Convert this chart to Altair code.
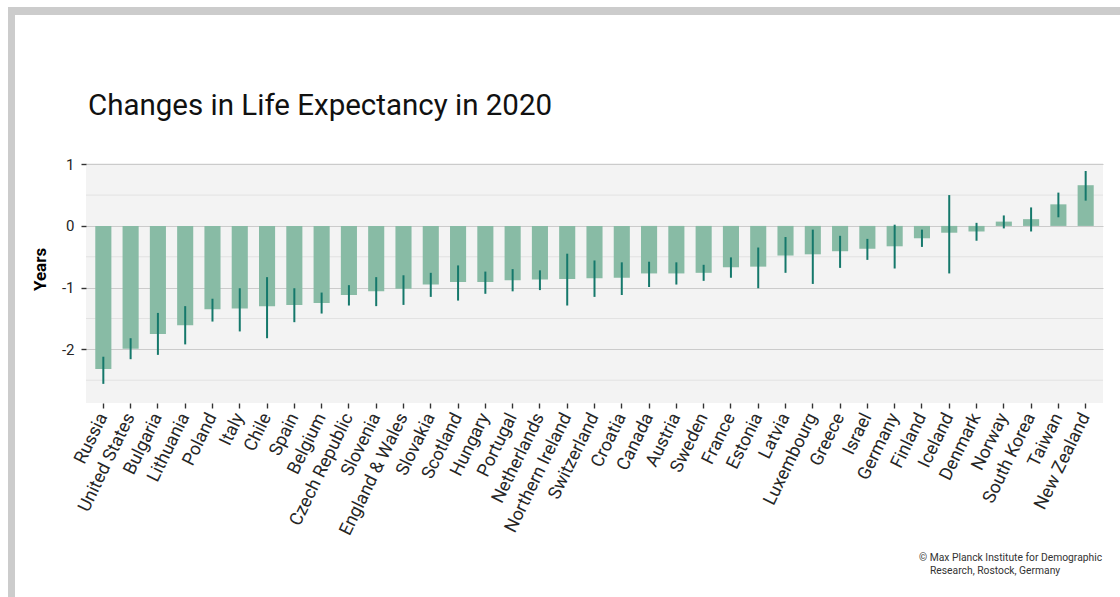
import altair as alt
import pandas as pd

countries = ["Russia", "United States", "Bulgaria", "Lithuania", "Poland", "Italy", "Chile",
             "Spain", "Belgium", "Czech Republic", "Slovenia", "England & Wales", "Slovakia",
             "Scotland", "Hungary", "Portugal", "Netherlands", "Northern Ireland", "Switzerland",
             "Croatia", "Canada", "Austria", "Sweden", "France", "Estonia", "Latvia",
             "Luxembourg", "Greece", "Israel", "Germany", "Finland", "Iceland", "Denmark",
             "Norway", "South Korea", "Taiwan", "New Zealand"]
change = [-2.32, -1.99, -1.75, -1.61, -1.35, -1.34, -1.30, -1.28, -1.25, -1.12, -1.06, -1.02,
          -0.95, -0.91, -0.91, -0.88, -0.87, -0.86, -0.85, -0.84, -0.77, -0.77, -0.76, -0.67,
          -0.66, -0.48, -0.46, -0.41, -0.37, -0.33, -0.20, -0.11, -0.09, 0.07, 0.11, 0.35, 0.66]
lower = [-2.56, -2.16, -2.09, -1.92, -1.55, -1.71, -1.82, -1.56, -1.42, -1.29, -1.30, -1.28,
         -1.15, -1.21, -1.10, -1.06, -1.04, -1.29, -1.15, -1.12, -0.99, -0.95, -0.89, -0.84,
         -1.01, -0.76, -0.94, -0.68, -0.55, -0.69, -0.34, -0.77, -0.24, -0.04, -0.09, 0.14, 0.41]
upper = [-2.12, -1.82, -1.41, -1.30, -1.18, -1.01, -0.83, -1.01, -1.08, -0.96, -0.83, -0.80,
         -0.76, -0.64, -0.74, -0.70, -0.72, -0.45, -0.56, -0.59, -0.58, -0.59, -0.63, -0.51,
         -0.35, -0.18, -0.06, -0.16, -0.21, 0.02, -0.06, 0.50, 0.05, 0.17, 0.30, 0.54, 0.89]
major_ticks = [-2, -1, 0, 1]
minor_ticks = [-2.5, -1.5, -0.5, 0.5]
title_text = "Changes in Life Expectancy in 2020"
caption_1 = "\u00a9 Max Planck Institute for Demographic"
caption_2 = "Research, Rostock, Germany"

df = pd.DataFrame({"country": countries, "change": change, "lo": lower, "hi": upper})
minor_df = pd.DataFrame({"v": minor_ticks})
one = pd.DataFrame({"k": [0]})

W, H = 1017, 240
FONT = "Roboto"

xscale = alt.Scale(domain=countries, paddingInner=0.41, paddingOuter=0.34)
yscale = alt.Scale(domain=[-2.87, 1.02], nice=False, zero=False)

xaxis = alt.Axis(title=None, labelAngle=-64, labelAlign="right", labelBaseline="middle",
                 labelFontSize=18, labelFont=FONT, labelColor="#262626", labelPadding=6,
                 tickSize=5, tickColor="#333333", tickWidth=1.4, domain=False, grid=False,
                 labelOverlap=False)
yaxis = alt.Axis(title="Years", values=major_ticks, labelExpr="'' + datum.value",
                 labelFontSize=15, labelFont=FONT, labelColor="#262626", labelPadding=7,
                 tickSize=5, tickColor="#333333", tickWidth=1.4, domain=False,
                 grid=True, gridColor="#cbcbcb", gridWidth=1,
                 titleFont=FONT, titleFontSize=17, titleFontWeight="bold", titleColor="#000000",
                 titleX=-37, titleY=106)

xenc = alt.X("country:N", sort=countries, scale=xscale, axis=xaxis)

minor = alt.Chart(minor_df).mark_rule(color="#e2e2e2", strokeWidth=1).encode(
    y=alt.Y("v:Q", scale=yscale, axis=yaxis)
)

bars = alt.Chart(df).mark_bar(color="#88bba5").encode(
    x=xenc,
    y=alt.Y("change:Q", scale=yscale, axis=yaxis),
    y2=alt.datum(0),
)

errs = alt.Chart(df).mark_rule(color="#15786b", strokeWidth=2).encode(
    x=xenc,
    y=alt.Y("lo:Q", scale=yscale, axis=yaxis),
    y2="hi:Q",
)

frame_top = alt.Chart(one).mark_rect(color="#cccccc").encode(
    x=alt.value(-78), x2=alt.value(1034), y=alt.value(-156), y2=alt.value(-148)
)
frame_left = alt.Chart(one).mark_rect(color="#cccccc").encode(
    x=alt.value(-78), x2=alt.value(-71), y=alt.value(-156), y2=alt.value(434)
)

title = alt.Chart(pd.DataFrame({"t": [title_text]})).mark_text(
    font=FONT, fontSize=29.5, align="left", baseline="alphabetic", color="#111111"
).encode(x=alt.value(2), y=alt.value(-48), text="t:N")

cap1 = alt.Chart(pd.DataFrame({"t": [caption_1]})).mark_text(
    font=FONT, fontSize=10.3, align="left", baseline="alphabetic", color="#333333"
).encode(x=alt.value(833), y=alt.value(398), text="t:N")
cap2 = alt.Chart(pd.DataFrame({"t": [caption_2]})).mark_text(
    font=FONT, fontSize=10.3, align="left", baseline="alphabetic", color="#333333"
).encode(x=alt.value(844), y=alt.value(411), text="t:N")

chart = alt.layer(minor, bars, errs, frame_top, frame_left, title, cap1, cap2).properties(
    width=W, height=H,
    autosize=alt.AutoSizeParams(type="none"),
    padding={"left": 86, "top": 163, "right": 17, "bottom": 194},
).configure_view(fill="#f3f3f3", stroke=None)

chart.save("out.html", embed_options={"renderer": "svg", "actions": False})
